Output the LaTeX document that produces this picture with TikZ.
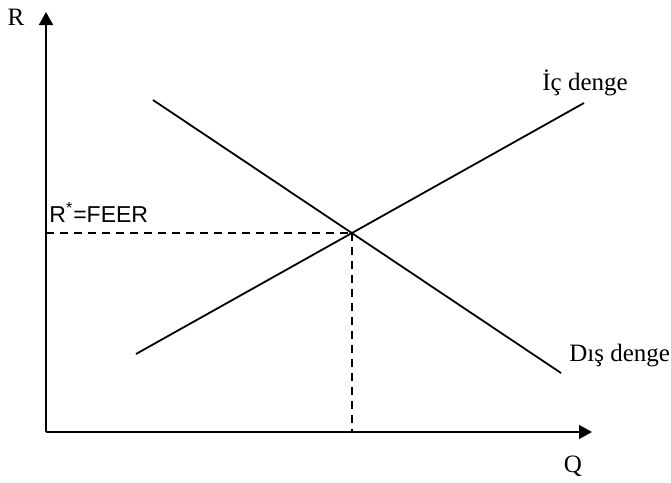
\documentclass[tikz,border=0pt]{standalone}
\usepackage{fontspec}
\setmainfont{Liberation Serif}
\newfontfamily\arialfont{Liberation Sans}
\usetikzlibrary{arrows.meta,positioning,calc}
\tikzset{
  axis line/.style={line width=1pt,-{Triangle[length=6.5pt,width=7pt]}},
  curve line/.style={line width=0.9pt},
  guide line/.style={line width=0.9pt,dash pattern=on 4pt off 3pt},
  axis label/.style={font=\fontsize{12.5}{15}\selectfont,inner sep=0pt},
  curve label/.style={axis label,anchor=base west},
  level label/.style={font=\arialfont\fontsize{11.5}{14}\selectfont,inner sep=0pt,anchor=base west}
}
\begin{document}
\begin{tikzpicture}[x=0.5pt,y=-0.5pt]
\useasboundingbox (0,0) rectangle (671,483);
% axes
\coordinate (origin) at (46,432);
\coordinate (rtop) at (46,12);
\coordinate (qend) at (592,432);
\draw[axis line] (origin) -- (rtop);
\draw[axis line] (origin) -- (qend);
\node[axis label] (rlabel) at (16,17) {R};
\node[axis label] (qlabel) at (573,466) {Q};
% balance lines
\coordinate (ic start) at (136,354);
\coordinate (ic end) at (584,103);
\coordinate (dis start) at (153,100);
\coordinate (dis end) at (561,373);
\draw[curve line] (ic start) -- (ic end);
\draw[curve line] (dis start) -- (dis end);
\coordinate (eq) at (intersection of ic start--ic end and dis start--dis end);
\node[curve label] (iclabel) at (542,90) {İç denge};
\node[curve label] (dislabel) at (569,361) {Dış denge};
% equilibrium guides
\coordinate (eq r) at (origin |- eq);
\coordinate (eq q) at (eq |- origin);
\draw[guide line] (eq r) -- (eq);
\draw[guide line] (eq) -- (eq q);
\node[level label] (feer) at (49,222) {R\textsuperscript{*}=FEER};
\end{tikzpicture}
\end{document}
